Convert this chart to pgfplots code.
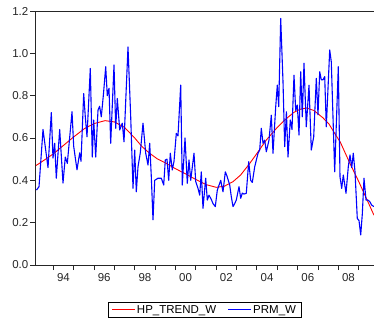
\documentclass[border=0pt]{standalone}
\usepackage{fontspec}
\setmainfont{Liberation Sans}
\usepackage{pgfplots}
\usepackage{pgfplotstable}
\pgfplotsset{compat=1.18}
\pgfplotsset{
  redleg/.style={legend image code/.code={\fill[fill=red, draw=none] (0pt,-0.5pt) rectangle (23pt,0.5pt);}},
  blueleg/.style={legend image code/.code={\fill[fill=blue, draw=none] (0pt,-0.55pt) rectangle (23pt,0.55pt);}}
}

\pgfplotstableread{
year val
1993.15 0.470
1993.50 0.492
1994.00 0.525
1994.50 0.565
1995.00 0.605
1995.54 0.645
1996.00 0.668
1996.54 0.682
1997.00 0.676
1997.50 0.650
1998.00 0.600
1998.35 0.560
1998.73 0.528
1999.10 0.502
1999.55 0.480
2000.00 0.455
2000.45 0.433
2001.00 0.404
2001.50 0.380
2002.00 0.367
2002.40 0.372
2002.83 0.394
2003.20 0.425
2003.65 0.480
2004.00 0.527
2004.46 0.590
2005.00 0.650
2005.37 0.685
2005.80 0.720
2006.10 0.735
2006.43 0.742
2006.80 0.730
2007.25 0.695
2007.55 0.665
2007.82 0.622
2008.10 0.580
2008.57 0.480
2009.00 0.395
2009.40 0.310
2009.753 0.235
}\trendtable

\pgfplotstableread{
year val
1993.175 0.354
1993.298 0.370
1993.494 0.640
1993.740 0.460
1993.902 0.720
1993.985 0.505
1994.069 0.575
1994.147 0.410
1994.314 0.640
1994.476 0.387
1994.589 0.510
1994.688 0.480
1994.919 0.724
1995.002 0.560
1995.164 0.450
1995.297 0.530
1995.361 0.490
1995.493 0.810
1995.572 0.700
1995.655 0.606
1995.817 0.929
1995.916 0.510
1995.984 0.685
1996.083 0.510
1996.196 0.732
1996.274 0.750
1996.358 0.700
1996.466 0.810
1996.574 0.937
1996.652 0.800
1996.736 0.835
1996.819 0.575
1996.982 0.945
1997.065 0.646
1997.144 0.787
1997.262 0.638
1997.389 0.670
1997.473 0.582
1997.669 1.030
1997.802 0.700
1997.915 0.362
1997.998 0.543
1998.077 0.346
1998.161 0.464
1998.273 0.530
1998.406 0.670
1998.539 0.528
1998.652 0.472
1998.735 0.575
1998.814 0.417
1998.897 0.213
1998.981 0.400
1999.143 0.410
1999.305 0.410
1999.423 0.378
1999.501 0.496
1999.585 0.500
1999.668 0.400
1999.747 0.528
1999.845 0.449
1999.929 0.490
2000.042 0.622
2000.125 0.610
2000.258 0.850
2000.336 0.378
2000.470 0.600
2000.582 0.386
2000.666 0.496
2000.749 0.400
2000.911 0.528
2000.995 0.394
2001.108 0.362
2001.191 0.330
2001.270 0.440
2001.353 0.268
2001.486 0.410
2001.565 0.307
2001.648 0.330
2001.761 0.310
2001.844 0.290
2001.957 0.276
2002.056 0.354
2002.223 0.400
2002.336 0.346
2002.449 0.440
2002.532 0.420
2002.665 0.378
2002.743 0.323
2002.827 0.276
2002.910 0.290
2002.989 0.307
2003.122 0.370
2003.205 0.315
2003.284 0.340
2003.367 0.335
2003.480 0.339
2003.598 0.488
2003.696 0.400
2003.775 0.390
2003.893 0.464
2004.055 0.528
2004.138 0.543
2004.217 0.646
2004.301 0.575
2004.384 0.590
2004.463 0.535
2004.595 0.590
2004.708 0.708
2004.792 0.528
2004.925 0.748
2005.003 0.850
2005.072 0.748
2005.170 1.165
2005.283 0.866
2005.366 0.559
2005.450 0.724
2005.529 0.510
2005.641 0.685
2005.725 0.640
2005.823 0.897
2005.907 0.730
2005.985 0.756
2006.069 0.614
2006.152 0.913
2006.231 0.700
2006.314 0.953
2006.427 0.653
2006.560 0.850
2006.673 0.543
2006.791 0.606
2006.919 0.882
2007.002 0.710
2007.086 0.913
2007.164 0.875
2007.248 0.875
2007.331 0.890
2007.410 0.653
2007.577 1.016
2007.655 0.960
2007.822 0.440
2007.999 0.937
2008.083 0.417
2008.166 0.362
2008.245 0.425
2008.378 0.339
2008.490 0.464
2008.574 0.520
2008.658 0.460
2008.736 0.528
2008.820 0.440
2008.932 0.220
2009.016 0.210
2009.100 0.142
2009.178 0.240
2009.262 0.410
2009.360 0.307
2009.443 0.307
2009.542 0.300
2009.640 0.283
2009.753 0.276
}\prmtable

\begin{document}
\begin{tikzpicture}
\begin{axis}[
  scale only axis,
  width=338pt, height=254pt,
  xmin=1993.15, xmax=2009.753,
  ymin=0, ymax=1.2,
  axis x line*=box,
  axis y line*=left,
  axis line style={line width=1pt, black!85},
  xtick pos=bottom, ytick pos=left,
  tick align=outside,
  major tick length=6pt,
  minor tick length=5pt,
  xtick={1994.5,1996.5,1998.5,2000.5,2002.5,2004.5,2006.5,2008.5},
  xticklabels={94,96,98,00,02,04,06,08},
  major x tick style={draw=none},
  minor x tick style={black!85, line width=0.9pt},
  major y tick style={black!85, line width=0.9pt},
  minor xtick={1994,1995,1996,1997,1998,1999,2000,2001,2002,2003,2004,2005,2006,2007,2008,2009},
  ytick={0,0.2,0.4,0.6,0.8,1.0,1.2},
  yticklabels={0.0,0.2,0.4,0.6,0.8,1.0,1.2},
  tick label style={font=\fontsize{11.5}{13.8}\selectfont, text=black!85},
  xticklabel style={yshift=1pt},
  yticklabel style={inner xsep=1.5pt},
  legend columns=2,
  legend style={at={(0.5,0)}, anchor=north, yshift=-36.5pt,
    draw=black, line width=0.8pt,
    font=\fontsize{11.5}{13.8}\selectfont,
    inner xsep=3.5pt, inner ysep=1.2pt,
    /tikz/every even column/.append style={column sep=10pt}},
  clip=true,
]
\addplot[red, line width=0.9pt, redleg] table[x=year, y=val] {\trendtable};
\addlegendentry{HP\_TREND\_W}
\addplot[blue, line width=1.1pt, line join=round, blueleg] table[x=year, y=val] {\prmtable};
\addlegendentry{PRM\_W}
\end{axis}
\pgfresetboundingbox
\path[use as bounding box] ([xshift=-36pt,yshift=-57pt]current axis.south west) rectangle ([yshift=11pt]current axis.north east);
\end{tikzpicture}
\end{document}
